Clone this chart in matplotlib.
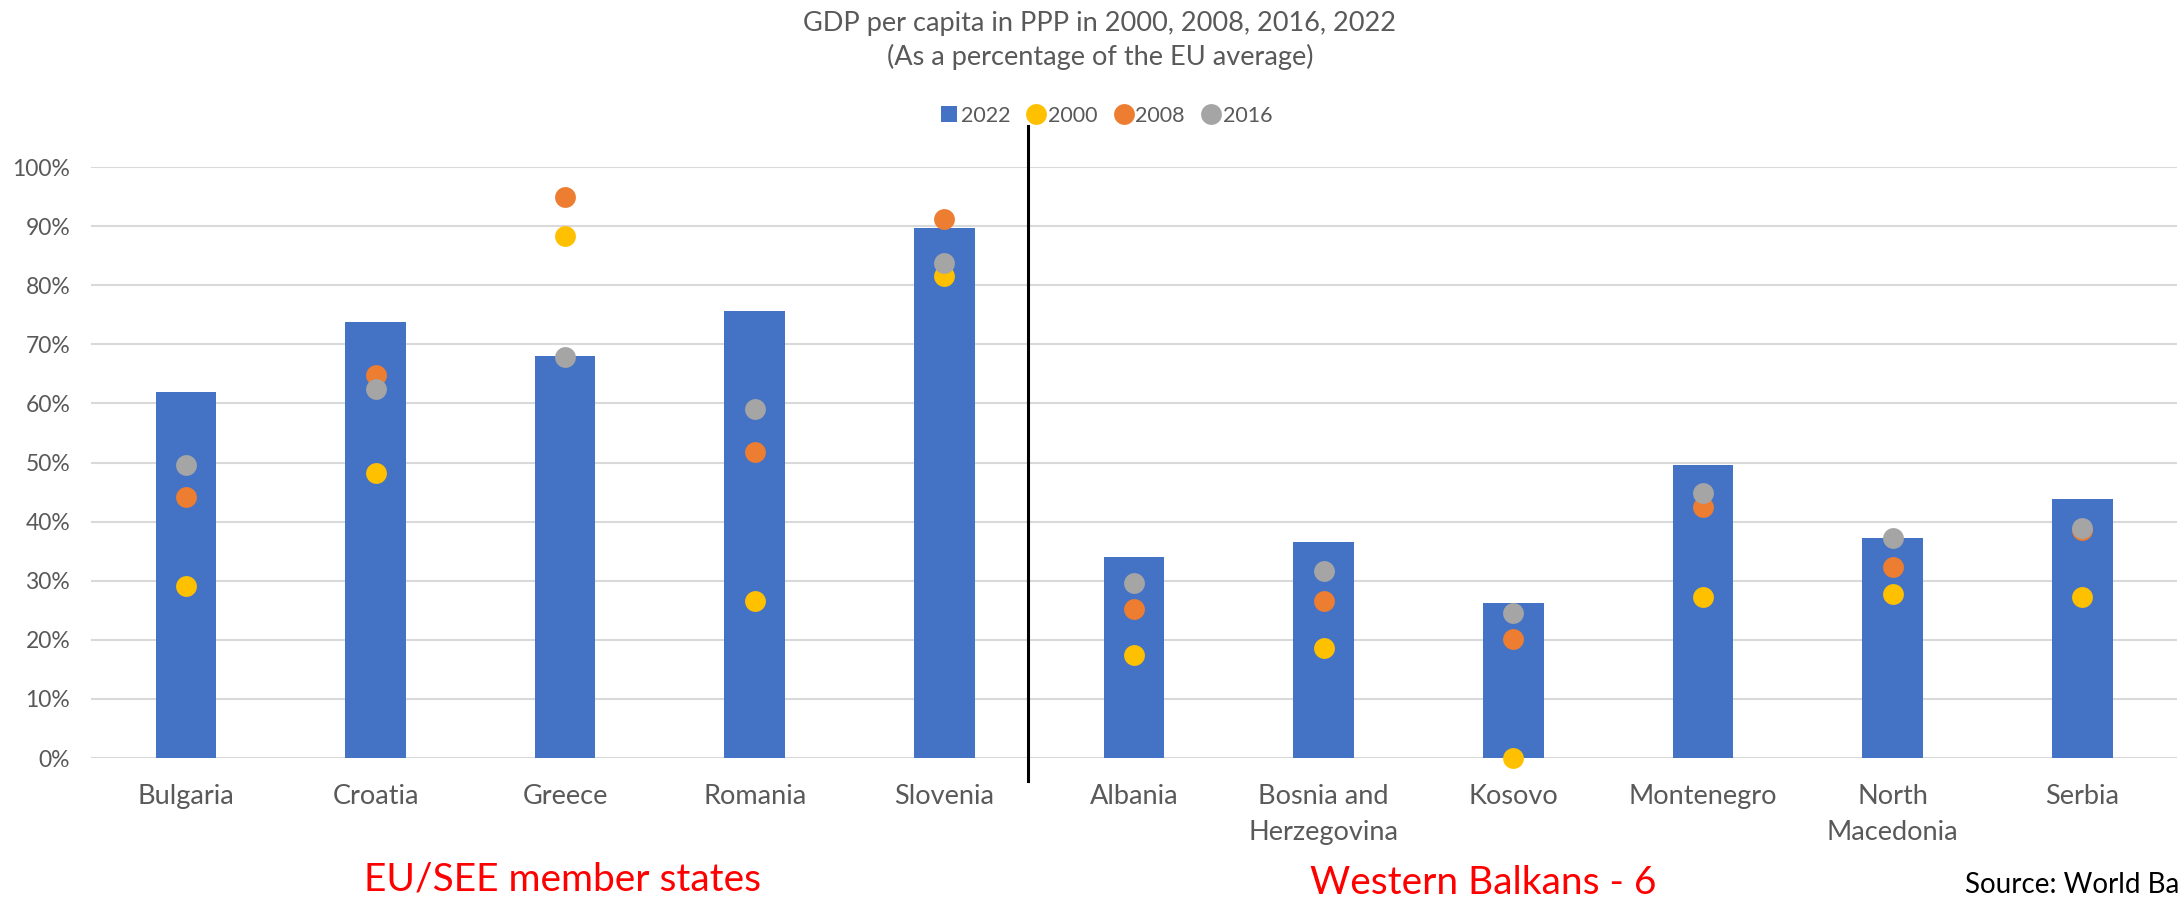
import matplotlib.pyplot as plt
from matplotlib.lines import Line2D
from matplotlib.ticker import FuncFormatter
import numpy as np

plt.rcParams['font.family'] = ['Lato', 'DejaVu Sans']

countries = ["Bulgaria", "Croatia", "Greece", "Romania", "Slovenia",
             "Albania", "Bosnia and\nHerzegovina", "Kosovo", "Montenegro",
             "North\nMacedonia", "Serbia"]
# GDP per capita in PPP, % of EU average
gdp_2022 = [62.0, 73.7, 68.1, 75.6, 89.6, 34.1, 36.6, 26.2, 49.5, 37.3, 43.9]
gdp_2000 = [29.1, 48.3, 88.4, 26.5, 81.6, 17.5, 18.7, 0.0, 27.2, 27.8, 27.3]
gdp_2008 = [44.2, 64.8, 95.0, 51.7, 91.2, 25.3, 26.5, 20.1, 42.5, 32.3, 38.6]
gdp_2016 = [49.5, 62.5, 67.9, 59.0, 83.7, 29.7, 31.7, 24.6, 44.8, 37.3, 39.0]

BLUE = '#4472C4'
YELLOW = '#FFC000'
ORANGE = '#ED7D31'
GREY = '#A5A5A5'
TEXT = '#595959'

fig = plt.figure(figsize=(21.78, 8.99), dpi=100)
ax = fig.add_axes([0.0418, 0.1568, 0.9578, 0.6574])

x = np.arange(len(countries))
ax.bar(x, gdp_2022, width=0.32, color=BLUE, zorder=2)

dot = 15
ax.plot(x, gdp_2000, 'o', color=YELLOW, ms=dot, mew=0, zorder=3, clip_on=False)
ax.plot(x, gdp_2008, 'o', color=ORANGE, ms=dot, mew=0, zorder=4, clip_on=False)
ax.plot(x, gdp_2016, 'o', color=GREY, ms=dot, mew=0, zorder=5, clip_on=False)

ax.set_xlim(-0.5, len(countries) - 0.5)
ax.set_ylim(0, 100)
ax.set_yticks(np.arange(0, 101, 10))
ax.yaxis.set_major_formatter(FuncFormatter(lambda v, p: f'{v:.0f}%'))
ax.set_xticks(x)
ax.set_xticklabels(countries, fontsize=19.5, color=TEXT, linespacing=1.55)
ax.tick_params(axis='x', length=0, pad=19)
ax.tick_params(axis='y', length=0, pad=15, labelsize=16.5, labelcolor=TEXT)
ax.grid(axis='y', color='#D9D9D9', lw=1.5, zorder=0)
for s in ax.spines.values():
    s.set_visible(False)

# divider between EU members and Western Balkans
ax.plot([4.44, 4.44], [-3.9, 107], color='black', lw=2.2, clip_on=False, zorder=6)

fig.text(0.505, 0.974, 'GDP per capita in PPP in 2000, 2008, 2016, 2022',
         ha='center', va='center', fontsize=19.5, color=TEXT)
fig.text(0.505, 0.937, '(As a percentage of the EU average)',
         ha='center', va='center', fontsize=19.5, color=TEXT)

handles = [
    Line2D([], [], ls='none', marker='s', ms=11, mew=0, color=BLUE),
    Line2D([], [], ls='none', marker='o', ms=15, mew=0, color=YELLOW),
    Line2D([], [], ls='none', marker='o', ms=15, mew=0, color=ORANGE),
    Line2D([], [], ls='none', marker='o', ms=15, mew=0, color=GREY),
]
fig.legend(handles, ['2022', '2000', '2008', '2016'], loc='center',
           bbox_to_anchor=(0.508, 0.871), ncol=4, frameon=False,
           fontsize=15.5, labelcolor=TEXT, handlelength=0.8,
           handletextpad=0.15, columnspacing=0.8)

fig.text(563 / 2178, 1 - 879 / 899, 'EU/SEE member states', ha='center',
         va='center', fontsize=28, color='red')
fig.text(1483 / 2178, 1 - 883 / 899, 'Western Balkans - 6', ha='center',
         va='center', fontsize=28, color='red')
fig.text(1965 / 2178, 1 - 885 / 899, 'Source: World Bank', ha='left',
         va='center', fontsize=20, color='black')

fig.savefig('out.png', dpi=100)
